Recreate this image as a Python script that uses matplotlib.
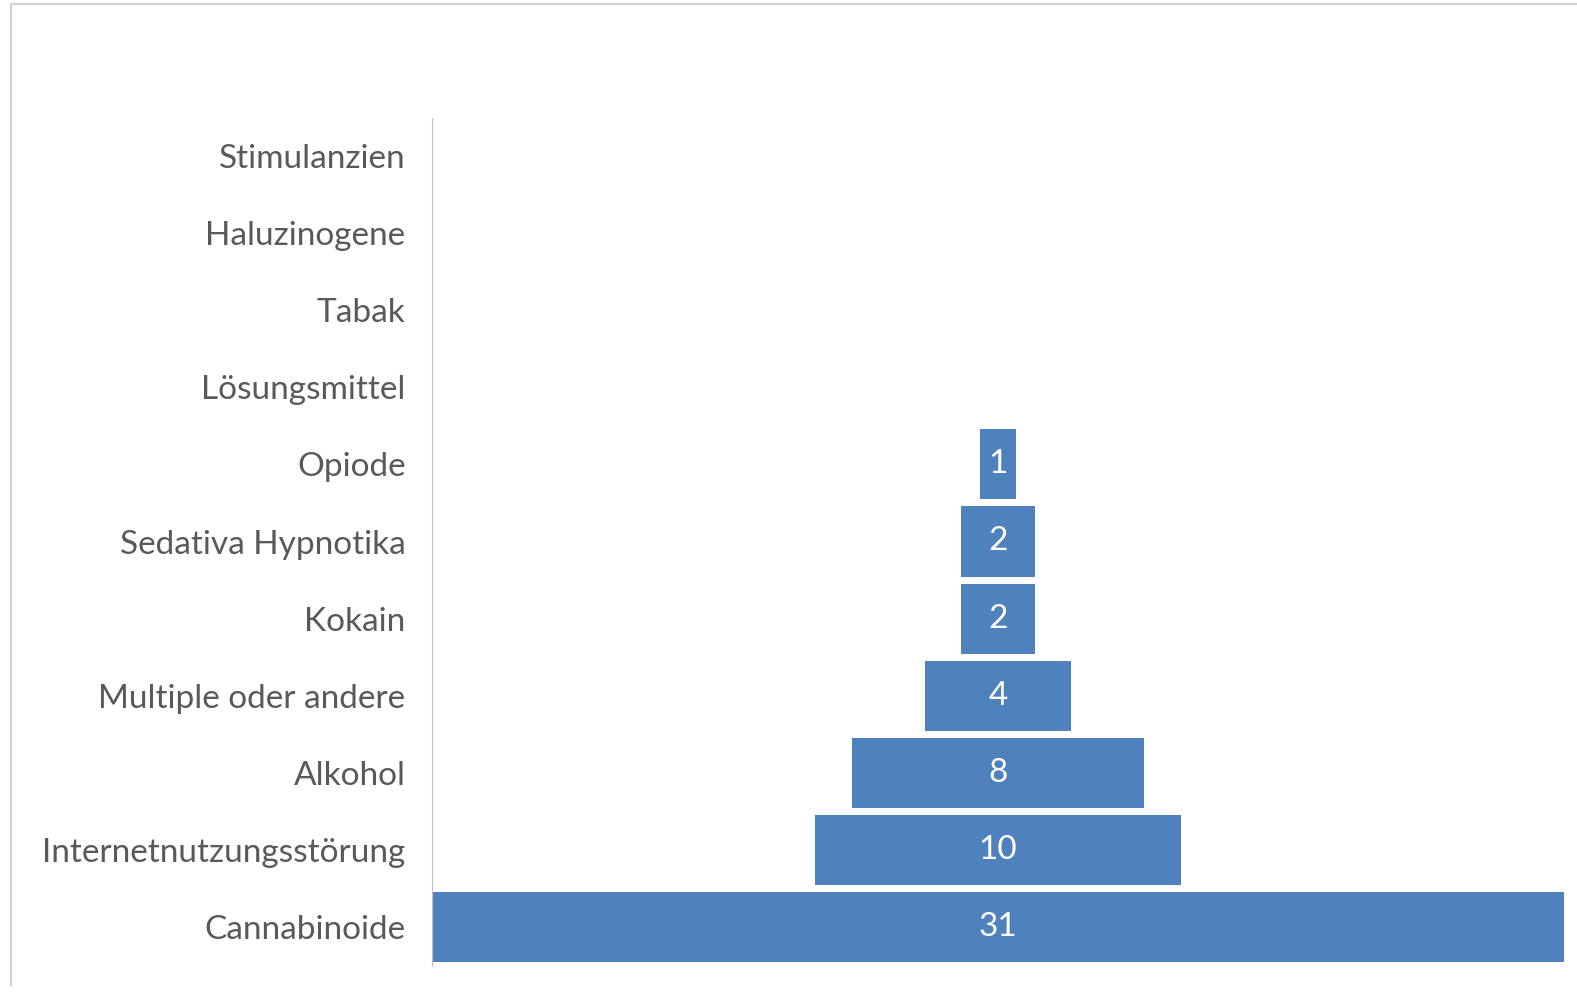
import matplotlib.pyplot as plt
from matplotlib.lines import Line2D

categories = ["Cannabinoide", "Internetnutzungsstörung", "Alkohol", "Multiple oder andere",
              "Kokain", "Sedativa Hypnotika", "Opiode", "Lösungsmittel", "Tabak",
              "Haluzinogene", "Stimulanzien"]
values = [31, 10, 8, 4, 2, 2, 1, 0, 0, 0, 0]

plt.rcParams["font.family"] = ["Lato", "DejaVu Sans"]

fig = plt.figure(figsize=(15.77, 9.92), dpi=100)
ax = fig.add_axes([432 / 1577, (992 - 965.5) / 992, (1564 - 432) / 1577, 848 / 992])

# funnel: bars centered on the middle of the largest one
top = max(values)
lefts = [(top - v) / 2 for v in values]
ax.barh(range(len(categories)), values, left=lefts, height=0.91, color="#4F81BD")
for i, v in enumerate(values):
    if v > 0:
        ax.text(top / 2, i, str(v), ha="center", va="center", color="white", fontsize=24)

ax.set_xlim(0, top)
ax.set_ylim(-0.5, len(categories) - 0.5)
ax.set_yticks(range(len(categories)))
ax.set_yticklabels(categories, fontsize=24, color="#595959")
ax.tick_params(axis="y", length=0, pad=19)
ax.set_xticks([])
for s in ["top", "right", "bottom"]:
    ax.spines[s].set_visible(False)
ax.spines["left"].set_color("#BFBFBF")
ax.spines["left"].set_linestyle((0, (1, 1)))

# outer chart frame
fig.add_artist(Line2D([11 / 1577, 11 / 1577], [1 - 985 / 992, 1 - 4 / 992], color="#D0D0D0", lw=1.5))
fig.add_artist(Line2D([11 / 1577, 1], [1 - 4 / 992, 1 - 4 / 992], color="#D0D0D0", lw=1.5))

fig.savefig("out.png", dpi=100)
